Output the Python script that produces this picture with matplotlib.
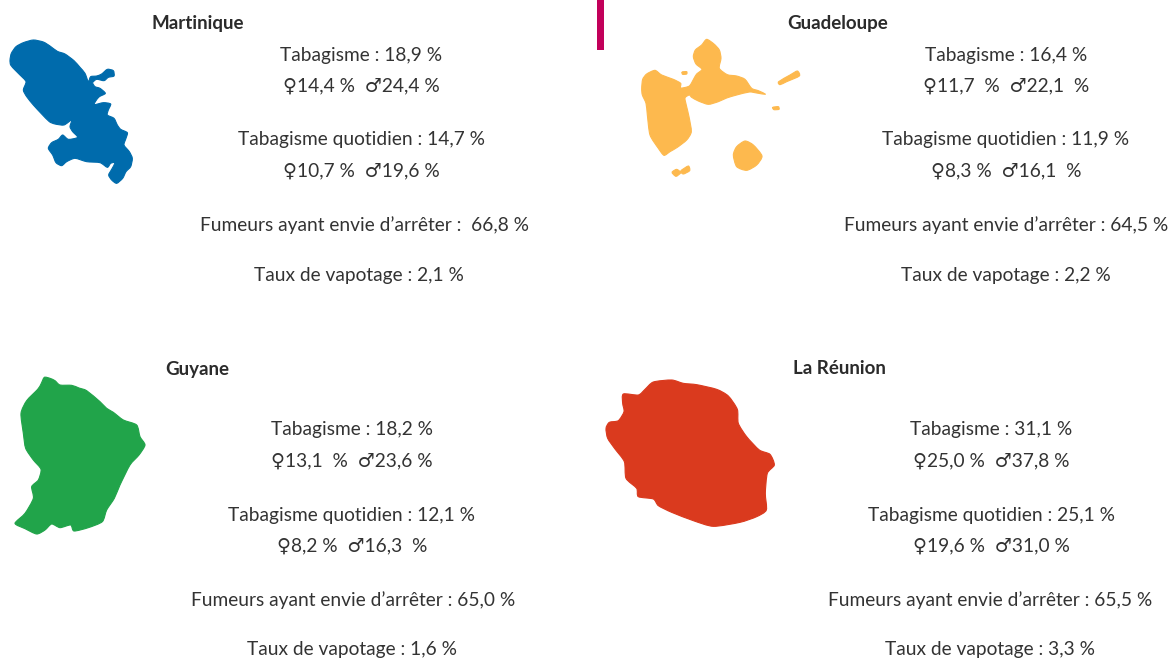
import matplotlib
matplotlib.use("Agg")
import matplotlib.pyplot as plt
from matplotlib.patches import PathPatch
from matplotlib.path import Path

plt.rcParams['font.family'] = ['Lato', 'DejaVu Sans']

# regions
regions = ['Martinique', 'Guadeloupe', 'Guyane', 'La Réunion']
colors = ['#006bac', '#fdb94e', '#21a44a', '#da3a1e']
text_color = '#333333'
bar_color = '#c2005a'

# values
tabac = ['18,9 %', '16,4 %', '18,2 %', '31,1 %']
tabac_sexe = ['♀14,4 %  ♂24,4 %', '♀11,7  %  ♂22,1  %', '♀13,1  %  ♂23,6 %', '♀25,0 %  ♂37,8 %']
quotidien = ['14,7 %', '11,9 %', '12,1 %', '25,1 %']
quotidien_sexe = ['♀10,7 %  ♂19,6 %', '♀8,3 %  ♂16,1  %', '♀8,2 %  ♂16,3  %', '♀19,6 %  ♂31,0 %']
arret = [' 66,8 %', '64,5 %', '65,0 %', '65,5 %']
vapotage = ['2,1 %', '2,2 %', '1,6 %', '3,3 %']

# outlines (crop px / 3 + crop origin)
martinique = [(30,90),(34,70),(48,50),(70,38),(100,30),(130,36),(150,48),(172,64),(195,72),(222,92),(240,112),
              (255,130),(265,155),(272,140),(290,138),(305,132),(322,118),(340,122),(342,138),(325,142),
              (312,152),(290,148),(278,158),(285,170),(300,175),(316,190),(298,200),(288,212),(283,224),
              (310,218),(332,222),(325,240),(322,255),(342,265),(352,285),(362,298),(382,308),(378,325),
              (372,345),(388,365),(397,385),(392,410),(378,425),(368,445),(350,460),(335,450),(326,435),
              (335,418),(345,398),(332,400),(322,412),(300,398),(260,395),(225,385),(200,395),(185,407),
              (168,398),(158,375),(145,355),(155,338),(175,328),(188,315),(205,328),(233,322),(218,305),
              (210,290),(215,270),(192,285),(165,282),(148,275),(125,252),(100,225),(80,200),(70,180),
              (78,155),(60,135),(45,120),(32,105)]
guadeloupe = [
    [(155,265),(158,238),(170,222),(195,211),(215,225),(250,238),(272,250),(272,264),(298,258),(312,235),
     (320,222),(336,208),(318,192),(310,170),(316,150),(335,135),(350,118),(372,132),(388,150),(393,175),
     (388,205),(412,224),(440,228),(465,238),(485,265),(505,272),(527,283),(500,279),(478,276),(440,285),
     (410,294),(385,305),(355,313),(325,303),(305,292),(298,285),(285,294),(290,320),(297,350),(304,395),
     (290,420),(262,442),(240,455),(222,466),(205,445),(180,405),(172,345),(168,310),(157,285)],
    [(430,465),(440,440),(465,423),(490,435),(516,468),(500,495),(470,511),(440,500)],
    [(566,245),(600,225),(622,213),(628,228),(590,245),(570,254)],
    [(548,322),(565,320),(567,328),(552,329)],
    [(246,517),(260,508),(272,518),(258,529)],
    [(272,513),(295,498),(299,512),(280,522)],
    [(276,216),(290,215),(290,222),(278,223)],
]
guyane = [(108,42),(118,22),(135,25),(150,32),(165,45),(200,46),(222,54),(245,62),(285,95),(305,115),(325,127),
          (355,150),(395,165),(405,200),(420,225),(402,255),(375,285),(345,345),(328,385),(305,420),(292,455),
          (250,473),(207,483),(197,465),(165,473),(140,462),(120,480),(95,492),(60,476),(30,460),(60,430),
          (85,385),(80,350),(100,330),(108,298),(85,270),(62,235),(55,190),(48,130),(65,92),(98,58)]
reunion = [(18,175),(28,157),(55,152),(72,125),(68,100),(70,72),(115,75),(135,58),(160,36),(215,30),(250,40),
           (290,44),(350,58),(385,78),(412,118),(415,160),(440,200),(478,240),(510,253),(523,285),(502,310),
           (496,370),(499,420),(470,440),(420,457),(340,469),(280,452),(215,427),(175,407),(160,387),(115,380),
           (110,355),(78,325),(73,275),(45,237),(23,205)]
shapes = [[martinique], guadeloupe, [guyane], [reunion]]
origins = [(0, 30), (590, 0), (5, 370), (600, 370)]

# layout
title_pos = [(198, 29.5), (838, 29.5), (197, 374.5), (839, 374.5)]
col_x = [361, 1006, 352, 991]
arret_x = [364, 1006, 353, 990]
vap_x = [359, 1006, 352, 990]
rows = [[55, 86, 140, 171, 225, 275]] * 2 + [[430, 461, 515, 546, 600, 650]] * 2


def round_path(pts, k=0.12):
    # bezier segments that pass through the read points, corners only softened
    n = len(pts)
    verts = [pts[0]]
    codes = [Path.MOVETO]
    for j in range(n):
        p0, p1, p2, p3 = pts[j - 1], pts[j], pts[(j + 1) % n], pts[(j + 2) % n]
        c1 = (p1[0] + (p2[0] - p0[0]) * k, p1[1] + (p2[1] - p0[1]) * k)
        c2 = (p2[0] - (p3[0] - p1[0]) * k, p2[1] - (p3[1] - p1[1]) * k)
        verts += [c1, c2, p2]
        codes += [Path.CURVE4] * 3
    return Path(verts, codes)


fig = plt.figure(figsize=(11.71, 6.61), dpi=100)
ax = fig.add_axes([0, 0, 1, 1])
ax.set_xlim(0, 1171)
ax.set_ylim(661, 0)
ax.axis('off')

ax.fill_between([597, 604], 0, 50, color=bar_color, lw=0)

for i in range(4):
    ox, oy = origins[i]
    for part in shapes[i]:
        pts = [(ox + x / 3, oy + y / 3) for x, y in part]
        ax.add_patch(PathPatch(round_path(pts), fc=colors[i], ec=colors[i], lw=0.8))

    ax.text(title_pos[i][0], title_pos[i][1], regions[i], ha='center', va='baseline', fontsize=13.5,
            fontweight='bold', color='#2b2b2b')

    y = rows[i]
    lines = [
        (col_x[i], y[0], 'Tabagisme : ' + tabac[i]),
        (col_x[i], y[1], tabac_sexe[i]),
        (col_x[i], y[2], 'Tabagisme quotidien : ' + quotidien[i]),
        (col_x[i], y[3], quotidien_sexe[i]),
        (arret_x[i], y[4], 'Fumeurs ayant envie d’arrêter : ' + arret[i]),
        (vap_x[i], y[5], 'Taux de vapotage : ' + vapotage[i]),
    ]
    for x, yy, s in lines:
        ax.text(x, yy, s, ha='center', va='center', fontsize=13.8, color=text_color)

fig.savefig('out.png', dpi=100, facecolor='white')
